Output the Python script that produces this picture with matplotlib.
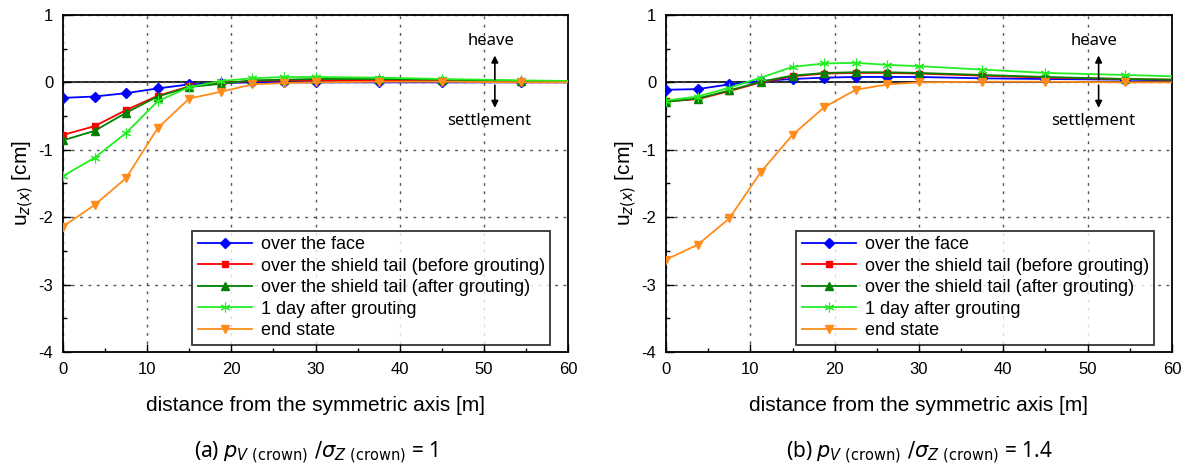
import matplotlib
matplotlib.use("Agg")
import matplotlib.pyplot as plt
from matplotlib.ticker import MultipleLocator

plt.rcParams["font.family"] = ["Liberation Sans", "DejaVu Sans"]
plt.rcParams["axes.unicode_minus"] = False

# distance from the symmetric axis [m]
X = [0, 3.75, 7.5, 11.25, 15, 18.75, 22.5, 26.25, 30, 37.5, 45, 54.4, 60]

LABELS = ["over the face",
          "over the shield tail (before grouting)",
          "over the shield tail (after grouting)",
          "1 day after grouting",
          "end state"]

# panel (a) p/sigma = 1
A_FACE = [-0.23, -0.21, -0.16, -0.09, -0.03, -0.01, 0.0, 0.0, 0.0, 0.0, 0.0, 0.0, 0.0]
A_TAIL_BEFORE = [-0.78, -0.65, -0.41, -0.20, -0.06, -0.01, 0.02, 0.03, 0.03, 0.03, 0.02, 0.01, 0.01]
A_TAIL_AFTER = [-0.86, -0.72, -0.45, -0.21, -0.07, -0.02, 0.03, 0.04, 0.05, 0.05, 0.04, 0.02, 0.02]
A_ONE_DAY = [-1.39, -1.12, -0.75, -0.28, -0.07, 0.02, 0.06, 0.08, 0.08, 0.07, 0.05, 0.03, 0.02]
A_END = [-2.14, -1.82, -1.42, -0.68, -0.24, -0.14, -0.03, -0.01, 0.0, 0.01, 0.01, 0.0, 0.0]

# panel (b) p/sigma = 1.4
B_FACE = [-0.11, -0.10, -0.03, 0.02, 0.05, 0.07, 0.08, 0.08, 0.08, 0.06, 0.05, 0.04, 0.03]
B_TAIL_BEFORE = [-0.28, -0.25, -0.13, 0.0, 0.09, 0.13, 0.14, 0.14, 0.13, 0.10, 0.07, 0.05, 0.04]
B_TAIL_AFTER = [-0.29, -0.24, -0.12, 0.01, 0.10, 0.14, 0.15, 0.15, 0.14, 0.11, 0.08, 0.05, 0.04]
B_ONE_DAY = [-0.27, -0.21, -0.08, 0.07, 0.23, 0.28, 0.29, 0.26, 0.24, 0.19, 0.14, 0.11, 0.09]
B_END = [-2.63, -2.41, -2.02, -1.33, -0.78, -0.37, -0.11, -0.03, 0.0, 0.01, 0.01, 0.0, 0.0]

STYLES = [
    dict(color="#0000ff", marker="D", ms=5),
    dict(color="#ff0000", marker="s", ms=5),
    dict(color="#008000", marker="^", ms=6),
    dict(color="#22ee22", marker=(6, 2, 0), ms=7, mew=0.8),
    dict(color="#ff8c1a", marker="v", ms=6),
]

CAPTIONS = [r"(a) $p_{V\ \mathrm{(crown)}}\ /\sigma_{Z\ \mathrm{(crown)}}$ = 1",
            r"(b) $p_{V\ \mathrm{(crown)}}\ /\sigma_{Z\ \mathrm{(crown)}}$ = 1.4"]


def draw_panel(ax, series, caption):
    ax.axhline(0, color="black", lw=1.2, zorder=1)
    for ys, label, st in zip(series, LABELS, STYLES):
        # last point (x=60) is only the line end, no marker there
        ax.plot(X, ys, color=st["color"], lw=1.3, label=label, zorder=3,
                marker=st["marker"], ms=st["ms"], mew=st.get("mew", 1),
                markevery=list(range(len(X) - 1)))
    ax.set_xlim(0, 60)
    ax.set_ylim(-4, 1)
    ax.xaxis.set_major_locator(MultipleLocator(10))
    ax.xaxis.set_minor_locator(MultipleLocator(5))
    ax.yaxis.set_major_locator(MultipleLocator(1))
    ax.yaxis.set_minor_locator(MultipleLocator(0.5))
    ax.tick_params(which="both", direction="in", top=False, right=False, labelsize=12, pad=7)
    ax.tick_params(which="major", length=6, width=1)
    ax.tick_params(which="minor", length=3, width=1)
    ax.grid(True, which="major", ls=(0, (2, 4)), color="#555555", lw=1)
    for sp in ax.spines.values():
        sp.set_linewidth(1.3)
    ax.set_xlabel("distance from the symmetric axis [m]", fontsize=15, labelpad=14)
    ax.set_ylabel(r"u$_{z(x)}$ [cm]", fontsize=15, labelpad=2)

    ax.annotate("", xy=(51.3, 0.44), xytext=(51.3, 0.0),
                arrowprops=dict(arrowstyle="-|>", color="black", lw=1.2))
    ax.annotate("", xy=(51.3, -0.42), xytext=(51.3, 0.0),
                arrowprops=dict(arrowstyle="-|>", color="black", lw=1.2))
    ax.text(50.8, 0.62, "heave", ha="center", va="center", fontsize=12,
            family=["Noto Sans", "DejaVu Sans"])
    ax.text(50.6, -0.58, "settlement", ha="center", va="center", fontsize=12,
            family=["Noto Sans", "DejaVu Sans"])

    leg = ax.legend(loc="lower right", bbox_to_anchor=(0.965, 0.022), fontsize=13,
                    frameon=True, fancybox=False, edgecolor="black", handlelength=3.0,
                    borderpad=0.3, labelspacing=0.25, handletextpad=0.5, borderaxespad=0)
    leg.get_frame().set_linewidth(1.3)
    leg.set_zorder(6)

    ax.text(0.5, -0.30, caption, transform=ax.transAxes, ha="center", va="center",
            fontsize=15, family=["Noto Sans", "DejaVu Sans"])


fig = plt.figure(figsize=(11.97, 4.68), dpi=100)
ax1 = fig.add_axes([0.0526, 0.248, 0.422, 0.720])
ax2 = fig.add_axes([0.5564, 0.248, 0.4227, 0.720])

draw_panel(ax1, [A_FACE, A_TAIL_BEFORE, A_TAIL_AFTER, A_ONE_DAY, A_END], CAPTIONS[0])
draw_panel(ax2, [B_FACE, B_TAIL_BEFORE, B_TAIL_AFTER, B_ONE_DAY, B_END], CAPTIONS[1])

fig.savefig("out.png", dpi=100)
